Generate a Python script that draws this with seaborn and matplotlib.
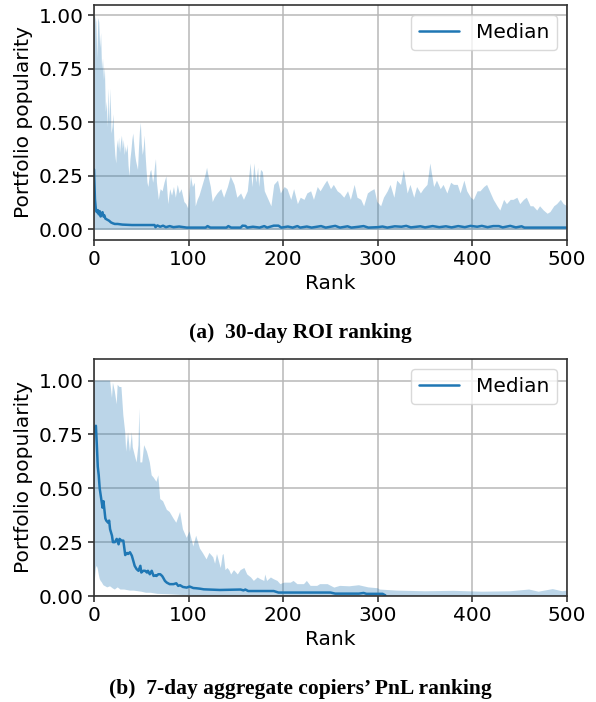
import numpy as np
import matplotlib
matplotlib.use("Agg")
import matplotlib.pyplot as plt
import seaborn as sns

# ---------------- data ----------------
# (a) 30-day ROI ranking
roi_upper_rank = [0,1,2,3,4,5,6,7,8,9,10,11,12,13,14,15,16,17,18,19,20,21,22,23,24,25,26,27,28,29,
                  30,31,32,33,34,35,36,37,38,39,40,41,42,43,44,45,46,47,48,49,50,51,52,53,54,55,56,57,58,59,
                  60,61,62,63,64,65,66,67,68,69,70,72,74,76,78,80,82,84,86,88,90,92,95,97,99,100,102,104,106,107,
                  109,111,113,115,117,119,121,123,125,127,130,134,137,141,144,148,151,155,158,162,165,167,169,171,
                  173,174,176,178,180,183,187,190,194,197,201,204,208,211,215,218,222,225,229,232,236,239,243,246,
                  250,253,257,260,264,268,271,275,278,282,285,289,292,296,299,303,306,310,313,317,320,324,327,331,
                  334,338,341,345,348,352,355,359,362,366,369,373,377,380,384,387,391,394,398,401,405,408,412,415,
                  419,422,426,429,433,436,440,443,447,450,454,457,461,464,468,471,475,479,482,486,489,493,496,500]
roi_upper_val = [0.90,1.00,0.97,0.80,0.99,0.97,0.85,0.92,0.75,0.80,0.70,0.76,0.55,0.60,0.48,0.66,0.50,0.66,0.45,0.48,
                 0.54,0.42,0.35,0.31,0.42,0.38,0.43,0.36,0.41,0.44,0.38,0.42,0.35,0.39,0.36,0.40,0.30,0.25,0.33,0.37,
                 0.42,0.45,0.40,0.35,0.32,0.30,0.28,0.38,0.46,0.50,0.40,0.35,0.38,0.44,0.35,0.28,0.22,0.20,0.24,0.27,
                 0.28,0.25,0.22,0.25,0.30,0.33,0.22,0.18,0.14,0.17,0.19,0.18,0.22,0.25,0.12,0.19,0.16,0.20,0.15,0.21,
                 0.17,0.19,0.13,0.12,0.10,0.15,0.25,0.20,0.22,0.11,0.14,0.16,0.19,0.22,0.25,0.29,0.24,0.20,0.13,0.15,
                 0.17,0.19,0.15,0.20,0.25,0.21,0.15,0.17,0.14,0.18,0.31,0.20,0.31,0.22,0.29,0.20,0.28,0.27,0.18,0.15,
                 0.11,0.21,0.23,0.17,0.20,0.19,0.14,0.19,0.12,0.15,0.14,0.17,0.18,0.14,0.20,0.18,0.21,0.23,0.19,0.21,
                 0.18,0.17,0.15,0.18,0.14,0.21,0.15,0.14,0.11,0.17,0.18,0.19,0.13,0.11,0.15,0.18,0.21,0.15,0.23,0.21,
                 0.28,0.17,0.21,0.15,0.20,0.17,0.19,0.21,0.31,0.20,0.23,0.19,0.21,0.17,0.22,0.21,0.21,0.17,0.23,0.18,
                 0.15,0.14,0.18,0.18,0.20,0.21,0.17,0.14,0.11,0.09,0.14,0.12,0.14,0.14,0.15,0.12,0.14,0.15,0.11,0.11,
                 0.09,0.11,0.09,0.075,0.083,0.11,0.12,0.14,0.12,0.11]
roi_median_rank = [0,1,2,3,4,5,6,7,8,9,10,11,12,14,16,18,20,22,25,30,40,50,64,65,67,70,73,76,80,84,90,98,110,118,
                   120,123,140,142,145,155,157,160,162,168,175,180,183,190,195,198,205,210,215,218,225,230,240,245,
                   250,255,260,268,272,280,285,290,300,305,310,318,325,330,335,345,350,358,365,372,378,385,392,398,
                   405,410,416,422,428,432,440,446,452,455,500]
roi_median_val = [0.28,0.14,0.09,0.08,0.09,0.07,0.085,0.06,0.075,0.08,0.06,0.065,0.05,0.045,0.04,0.032,0.028,0.025,
                  0.025,0.022,0.02,0.02,0.02,0.01,0.018,0.012,0.017,0.01,0.015,0.01,0.013,0.008,0.008,0.008,0.015,
                  0.008,0.008,0.015,0.008,0.008,0.017,0.016,0.008,0.012,0.008,0.015,0.008,0.017,0.017,0.008,0.013,
                  0.008,0.015,0.008,0.013,0.008,0.015,0.008,0.012,0.016,0.008,0.014,0.008,0.012,0.015,0.008,0.01,
                  0.013,0.008,0.014,0.012,0.016,0.009,0.014,0.009,0.015,0.01,0.014,0.009,0.015,0.01,0.016,0.012,
                  0.016,0.01,0.015,0.015,0.009,0.016,0.009,0.014,0.008,0.008]

# (b) 7-day aggregate copiers' PnL ranking
pnl_upper_rank = [0,17,19,20,22,24,25,27,29,31,33,34,36,38,40,41,45,47,48,49,51,53,56,59,61,63,66,68,70,73,77,80,
                  84,87,91,94,98,101,105,108,112,115,119,122,126,128,130,134,136,137,139,141,143,145,148,152,155,
                  159,162,166,169,173,176,180,181,183,187,190,194,197,201,208,211,215,222,225,229,236,239,247,254,
                  260,270,280,290,300,302,320,350,380,410,440,460,470,485,495,500]
pnl_upper_val = [1.0,1.0,0.92,0.99,0.95,0.89,0.98,0.97,0.97,0.84,0.76,0.67,0.76,0.67,0.76,0.69,0.62,0.70,0.87,0.62,
                 0.62,0.70,0.67,0.62,0.56,0.55,0.53,0.56,0.45,0.44,0.40,0.39,0.36,0.34,0.39,0.31,0.27,0.30,0.23,0.28,
                 0.22,0.20,0.17,0.20,0.18,0.15,0.195,0.13,0.19,0.195,0.12,0.13,0.12,0.10,0.12,0.10,0.12,0.13,0.10,
                 0.086,0.07,0.086,0.078,0.07,0.10,0.07,0.086,0.078,0.07,0.055,0.062,0.062,0.07,0.055,0.055,0.07,
                 0.047,0.047,0.055,0.055,0.039,0.047,0.045,0.05,0.04,0.036,0.03,0.025,0.022,0.024,0.02,0.022,0.03,
                 0.02,0.032,0.022,0.025]
pnl_lower_rank = [0,1,2,3,4,5,6,7,8,10,12,14,17,20,22,25,28,32,38,42,50,55,60,67,80,100,110,500]
pnl_lower_val = [0.02,0.08,0.13,0.14,0.125,0.10,0.08,0.07,0.065,0.05,0.045,0.04,0.045,0.035,0.03,0.04,0.03,0.03,
                 0.025,0.025,0.02,0.015,0.015,0.01,0.008,0.003,0.0,0.0]
pnl_median_rank = [0,1,2,3,4,5,6,8,9,10,11,12,13,15,16,17,19,20,22,24,26,27,29,31,33,35,36,38,40,42,43,45,47,49,
                   50,52,54,56,57,59,61,63,65,66,68,70,72,73,75,77,80,84,87,89,91,94,98,101,105,108,112,116,133,155,
                   158,160,163,190,195,250,255,280,285,288,305,308]
pnl_median_val = [0.76,0.78,0.79,0.70,0.60,0.56,0.50,0.44,0.41,0.44,0.40,0.36,0.35,0.34,0.35,0.31,0.28,0.25,0.25,
                  0.265,0.24,0.265,0.257,0.257,0.19,0.20,0.195,0.203,0.187,0.156,0.14,0.125,0.117,0.14,0.109,0.117,
                  0.117,0.109,0.117,0.101,0.117,0.093,0.096,0.093,0.101,0.101,0.093,0.086,0.07,0.062,0.055,0.055,
                  0.059,0.047,0.05,0.042,0.039,0.044,0.037,0.036,0.034,0.031,0.028,0.03,0.026,0.03,0.023,0.023,
                  0.016,0.016,0.011,0.011,0.014,0.01,0.01,0.003]

x_ticks = [0, 100, 200, 300, 400, 500]
y_ticks = [0.0, 0.25, 0.5, 0.75, 1.0]
captions = ["(a)  30-day ROI ranking", "(b)  7-day aggregate copiers\u2019 PnL ranking"]

# ---------------- style ----------------
sns.set_style("ticks")
plt.rcParams["font.family"] = ["DejaVu Sans"]
plt.rcParams.update({"text.color": "black", "axes.labelcolor": "black",
                     "xtick.color": "black", "ytick.color": "black"})
FS = 14.5
BLUE = "#1f77b4"

W, H = 596, 702
fig = plt.figure(figsize=(W / 100, H / 100), dpi=100)

def px_axes(left, top, right, bottom):
    return fig.add_axes([left / W, 1 - bottom / H, (right - left) / W, (bottom - top) / H])

ax1 = px_axes(94, 4.7, 567, 240)
ax2 = px_axes(94, 359, 567, 596)

def style(ax, ylim):
    ax.set_xlim(0, 500)
    ax.set_ylim(*ylim)
    ax.set_xticks(x_ticks)
    ax.set_yticks(y_ticks)
    ax.set_yticklabels([f"{v:.2f}" for v in y_ticks])
    ax.grid(True, color="#b8b8b8", linewidth=1.1)
    ax.set_axisbelow(True)
    ax.tick_params(labelsize=FS, length=4, width=1.1, color="#222222")
    for s in ax.spines.values():
        s.set_linewidth(1.2)
        s.set_color("#333333")
    ax.set_xlabel("Rank", fontsize=FS, labelpad=3)
    ax.set_ylabel("Portfolio popularity", fontsize=FS, labelpad=4)
    ax.legend(loc="upper right", fontsize=FS, frameon=True, fancybox=True,
              framealpha=0.8, edgecolor="#d0d0d0", handlelength=2.0)

# (a)
ax1.fill_between(roi_upper_rank, 0, roi_upper_val, color=BLUE, alpha=0.3, linewidth=0)
sns.lineplot(x=roi_median_rank, y=roi_median_val, ax=ax1, color=BLUE, linewidth=1.8, label="Median")
style(ax1, (-0.05, 1.05))

# (b)
poly_x = list(pnl_upper_rank) + list(pnl_lower_rank[::-1])
poly_y = list(pnl_upper_val) + list(pnl_lower_val[::-1])
ax2.fill(poly_x, poly_y, color=BLUE, alpha=0.3, linewidth=0)
sns.lineplot(x=pnl_median_rank, y=pnl_median_val, ax=ax2, color=BLUE, linewidth=1.8, label="Median")
style(ax2, (0.0, 1.1))

# captions
fig.text(300 / W, 1 - 333 / H, captions[0], ha="center", va="center",
         fontfamily="Liberation Serif", fontweight="bold", fontsize=15.5)
fig.text(300 / W, 1 - 689 / H, captions[1], ha="center", va="center",
         fontfamily="Liberation Serif", fontweight="bold", fontsize=15.5)

fig.savefig("out.png", dpi=100)
